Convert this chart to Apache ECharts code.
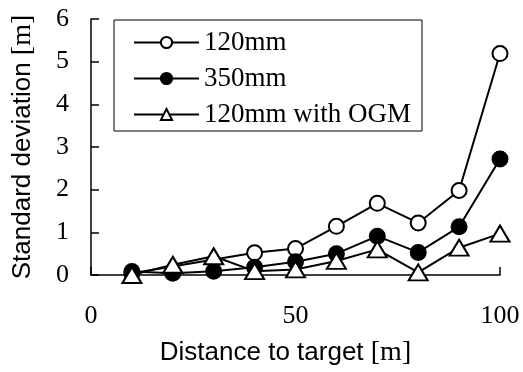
<!DOCTYPE html>
<html>
<head>
<meta charset="utf-8">
<script src="https://cdn.jsdelivr.net/npm/echarts@6/dist/echarts.min.js"></script>
<style>html,body{margin:0;padding:0;background:#fff;}#c{width:523px;height:372px;}</style>
</head>
<body>
<div id="c"></div>
<script>
const distances = [10, 20, 30, 40, 50, 60, 70, 80, 90, 100];
const s120 = [0.04, null, null, 0.52, 0.62, 1.14, 1.68, 1.22, 1.98, 5.19];
const s350 = [0.08, 0.04, 0.09, 0.18, 0.31, 0.5, 0.91, 0.53, 1.13, 2.72];
const sOGM = [0.0, 0.24, 0.44, 0.09, 0.13, 0.33, 0.6, 0.06, 0.64, 0.97];
const seriesNames = ['120mm', '350mm', '120mm with OGM'];
const xTicks = [0, 50, 100];
const yTicks = [0, 1, 2, 3, 4, 5, 6];

const serif = '"Liberation Serif", "Times New Roman", serif';
const sans = '"Liberation Sans", Arial, sans-serif';

function pairs(v) { return distances.map((d, i) => [d, v[i] === null ? null : v[i]]); }

const chart = echarts.init(document.getElementById('c'), null, {renderer: 'canvas'});
const common = {type: 'line', connectNulls: true, lineStyle: {color: '#000', width: 2}, emphasis: {disabled: true}, animation: false};
const nameRich = {a: {fontFamily: sans, fontSize: 26, color: '#000'}, b: {fontFamily: serif, fontSize: 28, color: '#000'}};
chart.setOption({
  animation: false,
  grid: {left: 91, right: 23, top: 19, bottom: 94, containLabel: false},
  xAxis: {
    type: 'value', min: xTicks[0], max: xTicks[xTicks.length - 1], interval: 50,
    axisLine: {lineStyle: {color: '#000', width: 1.5}},
    axisTick: {inside: true, length: 8, lineStyle: {color: '#000', width: 1.5}},
    splitLine: {show: false},
    axisLabel: {fontFamily: serif, fontSize: 26, color: '#000', margin: 28},
    name: '{a|Distance to target }{b|[m]}',
    nameLocation: 'middle', nameGap: 64,
    nameTextStyle: {padding: [0, 20, 0, 0], rich: nameRich}
  },
  yAxis: {
    type: 'value', min: yTicks[0], max: yTicks[yTicks.length - 1], interval: 1,
    axisLine: {show: true, lineStyle: {color: '#000', width: 1.5}},
    axisTick: {show: true, inside: true, length: 8, lineStyle: {color: '#000', width: 1.5}},
    splitLine: {show: false},
    axisLabel: {fontFamily: serif, fontSize: 26, color: '#000', margin: 22},
    name: '{a|Standard deviation }{b|[m]}',
    nameLocation: 'middle', nameGap: 54,
    nameTextStyle: {rich: nameRich}
  },
  legend: {
    orient: 'vertical', left: 114, top: 20,
    padding: [9, 11, 3, 19], itemGap: 9,
    itemWidth: 65, itemHeight: 14,
    borderColor: '#000', borderWidth: 1,
    textStyle: {fontFamily: serif, fontSize: 27, color: '#000', lineHeight: 27},
    data: seriesNames
  },
  series: [
    Object.assign({}, common, {name: seriesNames[0], data: pairs(s120), symbol: 'circle', symbolSize: 15,
      itemStyle: {color: '#fff', borderColor: '#000', borderWidth: 2}}),
    Object.assign({}, common, {name: seriesNames[1], data: pairs(s350), symbol: 'circle', symbolSize: 15,
      itemStyle: {color: '#000', borderColor: '#000', borderWidth: 2}}),
    Object.assign({}, common, {name: seriesNames[2], data: pairs(sOGM), symbol: 'triangle', symbolSize: [19, 16],
      itemStyle: {color: '#fff', borderColor: '#000', borderWidth: 2}})
  ]
});
</script>
</body>
</html>
